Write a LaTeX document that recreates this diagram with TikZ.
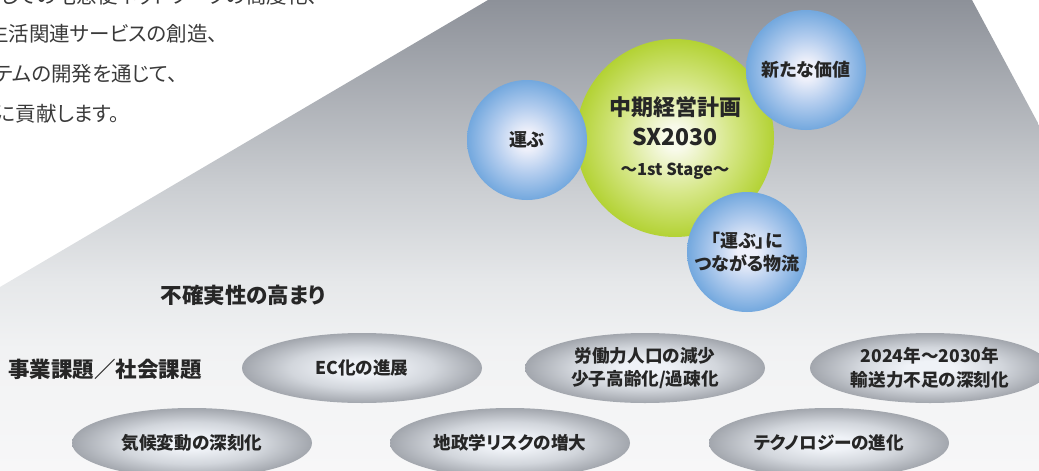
\documentclass[tikz,border=0pt]{standalone}
\usepackage{fontspec}
\setmainfont{Noto Sans CJK JP}[RawFeature=+palt]
\usetikzlibrary{shapes.geometric}
\definecolor{ink}{HTML}{262626}
\definecolor{topgray}{HTML}{3A3A3A}
\definecolor{bgA}{HTML}{F7F7F8}
\definecolor{bgB}{HTML}{F1F2F3}
\definecolor{bgC}{HTML}{E6E8EA}
\definecolor{bgD}{HTML}{CBCED2}
\definecolor{bgE}{HTML}{8D9199}
\definecolor{bIn}{HTML}{EEF0FA}
\definecolor{bMid}{HTML}{B2CCEE}
\definecolor{bOut}{HTML}{73A8DE}
\definecolor{gIn}{HTML}{F8FAEA}
\definecolor{gMid}{HTML}{D6E788}
\definecolor{gOut}{HTML}{B3D234}
\definecolor{eIn}{HTML}{EFF2F7}
\definecolor{eMid}{HTML}{D2D6DC}
\definecolor{eOut}{HTML}{A2A6AD}
\pgfdeclareverticalshading{bgshade}{100bp}{color(0bp)=(bgA); color(25bp)=(bgA); color(38bp)=(bgB); color(45bp)=(bgC); color(55bp)=(bgD); color(75bp)=(bgE); color(100bp)=(bgE)}
\pgfdeclareradialshading{blueshade}{\pgfpoint{0bp}{0bp}}{color(0bp)=(bIn); color(4bp)=(bIn); color(14bp)=(bMid); color(25bp)=(bOut); color(50bp)=(bOut)}
\pgfdeclareradialshading{greenshade}{\pgfpoint{0bp}{0bp}}{color(0bp)=(gIn); color(3bp)=(gIn); color(14bp)=(gMid); color(25bp)=(gOut); color(50bp)=(gOut)}
\pgfdeclareradialshading{grayshade}{\pgfpoint{0bp}{0bp}}{color(0bp)=(eIn); color(5bp)=(eIn); color(15bp)=(eMid); color(25bp)=(eOut); color(50bp)=(eOut)}
\tikzset{
  topline/.style={anchor=west, inner sep=0pt, text=topgray, font=\fontsize{20.5pt}{22pt}\selectfont},
  ball/.style={circle, inner sep=0pt, shade, shading=blueshade, align=center, text=ink, minimum size=120pt, font=\bfseries\fontsize{18pt}{23pt}\selectfont},
  planball/.style={circle, inner sep=0pt, shade, shading=greenshade, align=center, text=ink, minimum size=198pt, font=\bfseries\fontsize{22pt}{30pt}\selectfont},
  issue/.style={ellipse, inner sep=0pt, shade, shading=grayshade, align=center, text=ink, minimum width=240pt, minimum height=70pt, font=\bfseries\fontsize{17.6pt}{23.5pt}\selectfont},
  heading/.style={inner sep=0pt, text=ink, font=\bfseries\fontsize{21.5pt}{24pt}\selectfont}
}
\begin{document}
\begin{tikzpicture}[x=1pt,y=-1pt]
\useasboundingbox (0,0) rectangle (1039,471);
\clip (0,0) rectangle (1039,471);
\shade[shading=bgshade] (0,287) -- (488,0) -- (972,0) -- (1039,125) -- (1039,471) -- (0,471) -- cycle;
% top text (cut off by the picture edges)
\node[topline, anchor=east] (t1) at (318,-4) {しての宅急便ネットワークの高度化、};
\node[topline, anchor=east] (t2) at (218,34) {生活関連サービスの創造、};
\node[topline, anchor=east] (t3) at (178,74) {ステムの開発を通じて、};
\node[topline, anchor=east] (t4) at (120,114) {現に貢献します。};
% plan
\node[planball] (plan) at (675,138) {中期経営計画\\{\fontsize{23pt}{30pt}\selectfont SX2030}\\{\fontsize{16.5pt}{30pt}\selectfont ～1st Stage～}};
\node[ball] (hakobu) at (527,140) {運ぶ};
\node[ball] (value) at (806,70) {新たな価値};
\node[ball] (logi) at (747,252) {「運ぶ」に\\つながる物流};
% headings
\node[heading] (uncert) at (243,295) {不確実性の高まり};
\node[heading, anchor=west] (issues) at (8,369) {事業課題／社会課題};
% issues
\node[issue] (ec) at (362,368) {EC化の進展};
\node[issue] (labor) at (645,368) {労働力人口の減少\\少子高齢化/過疎化};
\node[issue] (trans) at (930,368) {2024年～2030年\\輸送力不足の深刻化};
\node[issue] (climate) at (192,443) {気候変動の深刻化};
\node[issue] (geo) at (510,443) {地政学リスクの増大};
\node[issue] (tech) at (829,443) {テクノロジーの進化};
\end{tikzpicture}
\end{document}
